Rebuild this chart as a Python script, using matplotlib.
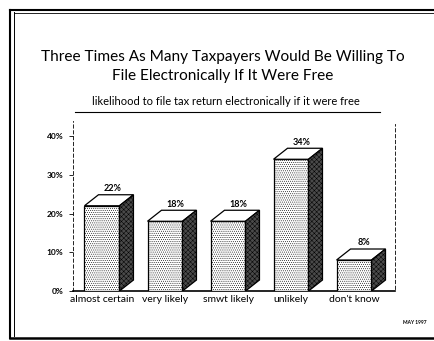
import numpy as np
import matplotlib.pyplot as plt
from matplotlib.patches import Polygon
from matplotlib.lines import Line2D

categories = ["almost certain", "very likely", "smwt likely", "unlikely", "don't know"]
values = [22, 18, 18, 34, 8]
yticks = [0, 10, 20, 30, 40]

plt.rcParams['font.family'] = ['Lato', 'DejaVu Sans']
plt.rcParams['hatch.linewidth'] = 0.35

fig = plt.figure(figsize=(4.35, 3.41), dpi=100)
ax = fig.add_axes([0.1678, 0.1466, 0.7402, 0.5])

x = np.arange(len(categories))
w = 0.555   # bar width
dx = 0.222  # depth offset in x
dy = 2.84   # depth offset in y

# front faces
ax.bar(x, values, width=w, color='white', edgecolor='black', hatch='........',
       linewidth=0.9, zorder=3)
for xi, v in zip(x, values):
    x0, x1 = xi - w / 2, xi + w / 2
    top = Polygon([(x0, v), (x0 + dx, v + dy), (x1 + dx, v + dy), (x1, v)],
                  closed=True, facecolor='white', edgecolor='black', lw=0.9, zorder=3)
    side = Polygon([(x1, 0), (x1 + dx, dy), (x1 + dx, v + dy), (x1, v)],
                   closed=True, facecolor='#4a4a4a', edgecolor='black', hatch='xxxxxxx',
                   lw=0.9, zorder=3)
    ax.add_patch(top)
    ax.add_patch(side)
    ax.text(xi + dx / 2 + 0.05, v + dy + 0.4, "%d%%" % v, ha='center', va='bottom',
            fontsize=6.5, fontweight='bold', zorder=4)

ax.set_xlim(-0.46, 4.65)
ax.set_ylim(0, 44)
ax.set_yticks(yticks)
ax.set_yticklabels(["%d%%" % t for t in yticks], fontsize=6, fontweight='bold')
ax.set_xticks(x)
ax.set_xticklabels(categories, fontsize=7.5)
ax.tick_params(axis='x', length=0, pad=3)
ax.tick_params(axis='y', length=3, width=0.6, pad=4, direction='out')

ax.spines['top'].set_visible(False)
ax.spines['left'].set_linestyle((0, (4, 3)))
ax.spines['left'].set_linewidth(0.6)
ax.spines['right'].set_linestyle((0, (4, 3)))
ax.spines['right'].set_linewidth(0.6)
ax.spines['right'].set_bounds(0.5, 43)
ax.spines['bottom'].set_linewidth(1.2)

# titles
fig.text(0.513, 1 - 57 / 341, "Three Times As Many Taxpayers Would Be Willing To",
         ha='center', va='center', fontsize=11.1)
fig.text(0.513, 1 - 76 / 341, "File Electronically If It Were Free",
         ha='center', va='center', fontsize=11.1)
fig.text(0.52, 1 - 102 / 341, "likelihood to file tax return electronically if it were free",
         ha='center', va='center', fontsize=8)
fig.add_artist(Line2D([75 / 435, 380 / 435], [1 - 112 / 341, 1 - 112 / 341],
                      color='black', lw=0.8))
fig.text(415 / 435, 1 - 322 / 341, "MAY 1997", ha='center', va='center',
         fontsize=3.5, fontweight='bold')

# page border
fig.add_artist(Line2D([10 / 435, 10 / 435], [1 - 10 / 341, 1 - 338 / 341], color='black', lw=1.5))
fig.add_artist(Line2D([14 / 435, 14 / 435], [1 - 12 / 341, 1 - 336 / 341], color='black', lw=0.7))
fig.add_artist(Line2D([10 / 435, 1], [1 - 10 / 341, 1 - 10 / 341], color='black', lw=1.5))
fig.add_artist(Line2D([14 / 435, 1], [1 - 13 / 341, 1 - 13 / 341], color='black', lw=0.6))
fig.add_artist(Line2D([10 / 435, 1], [1 - 338 / 341, 1 - 338 / 341], color='black', lw=1.8))

fig.savefig("out.png", dpi=100)
